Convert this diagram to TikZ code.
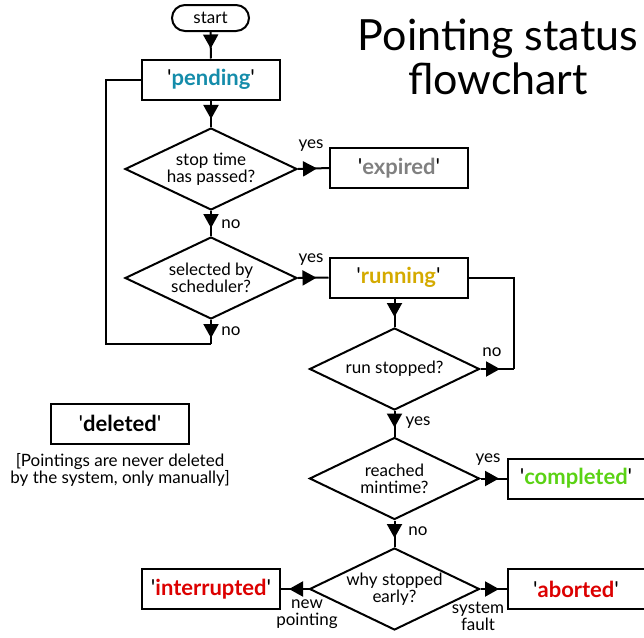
\documentclass[tikz,border=0pt]{standalone}
\usepackage{fontspec}
\setmainfont{Lato}[Ligatures=TeXOff]
\usetikzlibrary{shapes.geometric,arrows.meta,decorations.markings}
\definecolor{pendc}{RGB}{20,140,170}
\definecolor{expc}{RGB}{128,128,128}
\definecolor{runc}{RGB}{212,170,0}
\definecolor{compc}{RGB}{90,210,20}
\definecolor{redc}{RGB}{220,0,0}
\tikzset{
  statebox/.style={draw,line width=2pt,minimum width=138pt,minimum height=40pt,inner sep=0pt,font=\fontsize{22}{26}\selectfont},
  decide/.style={draw,diamond,aspect=2,line width=2pt,minimum width=172pt,minimum height=82pt,inner sep=-12pt,align=center,font=\fontsize{17}{17}\selectfont},
  lbl/.style={inner sep=0pt,align=center,font=\fontsize{17}{17}\selectfont},
  conn/.style={line width=2pt},
  arr/.style={conn,postaction={decorate},decoration={markings,mark=at position #1 with {\arrow{Triangle[length=14pt,width=15pt]}}}},
}
\newcommand{\st}[2]{'\textbf{\textcolor{#1}{#2}}'}
\begin{document}
\begin{tikzpicture}[x=1pt,y=-1pt]
\useasboundingbox (0,0) rectangle (644,637);
\node[draw,line width=2pt,rounded corners=13pt,minimum width=77pt,minimum height=26pt,inner sep=0pt,font=\fontsize{17}{17}\selectfont] (start) at (210.5,18) {start};
\node[statebox] (pending) at (211,79.5) {\st{pendc}{pending}};
\node[decide] (d1) at (211,169) {stop time\\has passed?};
\node[statebox] (expired) at (399,168) {\st{expc}{expired}};
\node[decide] (d2) at (211,278) {selected by\\scheduler?};
\node[statebox] (running) at (398.5,277.5) {\st{runc}{running}};
\node[decide,minimum width=170pt] (d3) at (394.5,369) {run stopped?};
\node[decide,minimum width=170pt] (d4) at (394.5,478.5) {reached\\mintime?};
\node[decide,minimum width=170pt] (d5) at (394.5,589) {why stopped\\early?};
\node[statebox,minimum width=140pt] (completed) at (578,478.5) {\hspace*{-4pt}\st{compc}{completed}};
\node[statebox,minimum width=140pt] (aborted) at (578,589) {\hspace*{-4pt}\st{redc}{aborted}};
\node[statebox] (interrupted) at (211,589) {\st{redc}{interrupted}};
\node[statebox] (deleted) at (120,423.5) {'\textbf{deleted}'};
\node[lbl] (note) at (120,470) {[Pointings are never deleted\\by the system, only manually]};
\node[inner sep=0pt,align=center,font=\fontsize{43}{44}\selectfont] (title) at (498,56.5) {Pointing status\\flowchart};
% connectors
\draw[arr=-10pt] (start) -- (pending);
\draw[arr=-8pt] (pending) -- (d1);
\draw[arr=-12pt] (d1.east) -- (expired.west);
\draw[arr=-8pt] (d1.south) -- (d2.north);
\draw[arr=-12pt] (d2.east) -- (running.west);
\coordinate (l1) at (211,344);
\coordinate (l2) at (106,344);
\draw[arr=-6pt] (d2.south) -- (l1);
\draw[conn] (l1) -- (l2) |- (pending.west);
\draw[arr=-10pt] (d3.north |- running.south) -- (d3.north);
\coordinate (r2) at (514,369);
\draw[arr=-14pt] (d3.east) -- (r2);
\draw[conn] (r2) |- (running.east);
\draw[arr=-9pt] (d3.south) -- (d4.north);
\draw[arr=-8pt] (d4.east) -- (completed.west);
\draw[arr=-9pt] (d4.south) -- (d5.north);
\draw[arr=-8pt] (d5.west) -- (interrupted.east);
\draw[arr=-8pt] (d5.east) -- (aborted.west);
% labels
\node[lbl] (y1) at (311,146) {yes};
\node[lbl] (n1) at (231,224) {no};
\node[lbl] (y2) at (311,260) {yes};
\node[lbl] (n2) at (231,331) {no};
\node[lbl] (n3) at (492,352) {no};
\node[lbl] (y3) at (418,423) {yes};
\node[lbl] (y4) at (488,460) {yes};
\node[lbl] (n4) at (418,531) {no};
\node[lbl] (np) at (307,614) {new\\pointing};
\node[lbl] (sf) at (478,616) {system\\fault};
\end{tikzpicture}
\end{document}
